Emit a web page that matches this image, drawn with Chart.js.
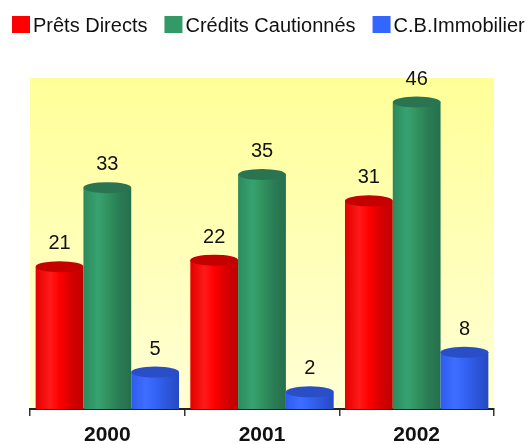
<!DOCTYPE html>
<html>
<head>
<meta charset="utf-8">
<script src="https://cdn.jsdelivr.net/npm/chart.js@4/dist/chart.umd.min.js"></script>
<style>
  html, body { margin: 0; padding: 0; background: #ffffff; }
  #wrap { width: 528px; height: 444px; position: relative; }
</style>
</head>
<body>
<div id="wrap"><canvas id="c" width="528" height="444"></canvas></div>
<script>
const categories = ['2000', '2001', '2002'];
const seriesNames = ['Prêts Directs', 'Crédits Cautionnés', 'C.B.Immobilier'];
const pretsDirects = [21, 22, 31];
const creditsCautionnes = [33, 35, 46];
const cbImmobilier = [5, 2, 8];

const FONT = '"Liberation Sans", Arial, Helvetica, sans-serif';
const legendColors = ['#FF0000', '#339966', '#3366FF'];
const bodyStops = [
  ['#E40000', '#FF1A1A', '#FF0000', '#D60000', '#BE0000'],
  ['#2C8A5C', '#37A271', '#31935F', '#2A7C55', '#25704C'],
  ['#2F5CEE', '#3D6EFF', '#3464F6', '#2D56DA', '#2649C4']
];
const capColors = ['#C40000', '#2A7452', '#2A4DC8'];

const cylinderPlugin = {
  id: 'cylinders',
  beforeDraw(chart) {
    const { ctx, chartArea: a } = chart;
    ctx.save();
    const g = ctx.createLinearGradient(0, a.top, 0, a.bottom);
    g.addColorStop(0, '#FFFF99');
    g.addColorStop(1, '#FFFFD6');
    ctx.fillStyle = g;
    ctx.fillRect(a.left, a.top, a.right - a.left, a.bottom - a.top);
    ctx.restore();
  },
  afterDatasetsDraw(chart) {
    const { ctx, chartArea: a } = chart;
    ctx.save();
    chart.data.datasets.forEach((ds, di) => {
      const meta = chart.getDatasetMeta(di);
      meta.data.forEach((el, i) => {
        const w = el.width;
        const x0 = el.x - w / 2;
        const top = el.y;
        const bottom = a.bottom;
        const g = ctx.createLinearGradient(x0, 0, x0 + w, 0);
        const st = bodyStops[di];
        g.addColorStop(0, st[0]);
        g.addColorStop(0.3, st[1]);
        g.addColorStop(0.5, st[2]);
        g.addColorStop(0.75, st[3]);
        g.addColorStop(1, st[4]);
        ctx.fillStyle = g;
        ctx.fillRect(x0, top, w, bottom - top);
        ctx.beginPath();
        ctx.ellipse(el.x, top, w / 2, 5.5, 0, 0, Math.PI * 2);
        ctx.fillStyle = capColors[di];
        ctx.fill();
        // value label
        ctx.fillStyle = '#111111';
        ctx.font = '20px ' + FONT;
        ctx.textAlign = 'center';
        ctx.textBaseline = 'middle';
        ctx.fillText(String(ds.data[i]), el.x, top - 23);
      });
    });
    ctx.restore();
  },
  afterDraw(chart) {
    const { ctx } = chart;
    ctx.save();
    ctx.font = '20px ' + FONT;
    ctx.textBaseline = 'alphabetic';
    ctx.textAlign = 'left';
    let x = 12;
    seriesNames.forEach((name, i) => {
      ctx.fillStyle = legendColors[i];
      ctx.fillRect(x, 16, 18, 17);
      x += 21;
      ctx.fillStyle = '#111111';
      ctx.fillText(name, x, 32);
      x += ctx.measureText(name).width + 17;
    });
    ctx.restore();
  }
};

new Chart(document.getElementById('c'), {
  type: 'bar',
  data: {
    labels: categories,
    datasets: [
      { label: seriesNames[0], data: pretsDirects, backgroundColor: 'rgba(0,0,0,0)', borderWidth: 0 },
      { label: seriesNames[1], data: creditsCautionnes, backgroundColor: 'rgba(0,0,0,0)', borderWidth: 0 },
      { label: seriesNames[2], data: cbImmobilier, backgroundColor: 'rgba(0,0,0,0)', borderWidth: 0 }
    ]
  },
  options: {
    responsive: false,
    animation: false,
    devicePixelRatio: 1,
    layout: { padding: { top: 78, left: 30, right: 34, bottom: 0 } },
    datasets: { bar: { categoryPercentage: 0.927, barPercentage: 1.0 } },
    plugins: { legend: { display: false }, tooltip: { enabled: false } },
    scales: {
      y: { display: false, min: -0.6, max: 49.65 },
      x: {
        afterFit(scale) { scale.height = 35; },
        grid: { display: true, offset: true, drawOnChartArea: false, drawTicks: true, tickLength: 7, color: '#333333', lineWidth: 1.5 },
        border: { display: true, color: '#222222', width: 2 },
        ticks: { color: '#111111', padding: 7, font: { family: FONT, size: 21, weight: 'bold' } }
      }
    }
  },
  plugins: [cylinderPlugin]
});
</script>
</body>
</html>
